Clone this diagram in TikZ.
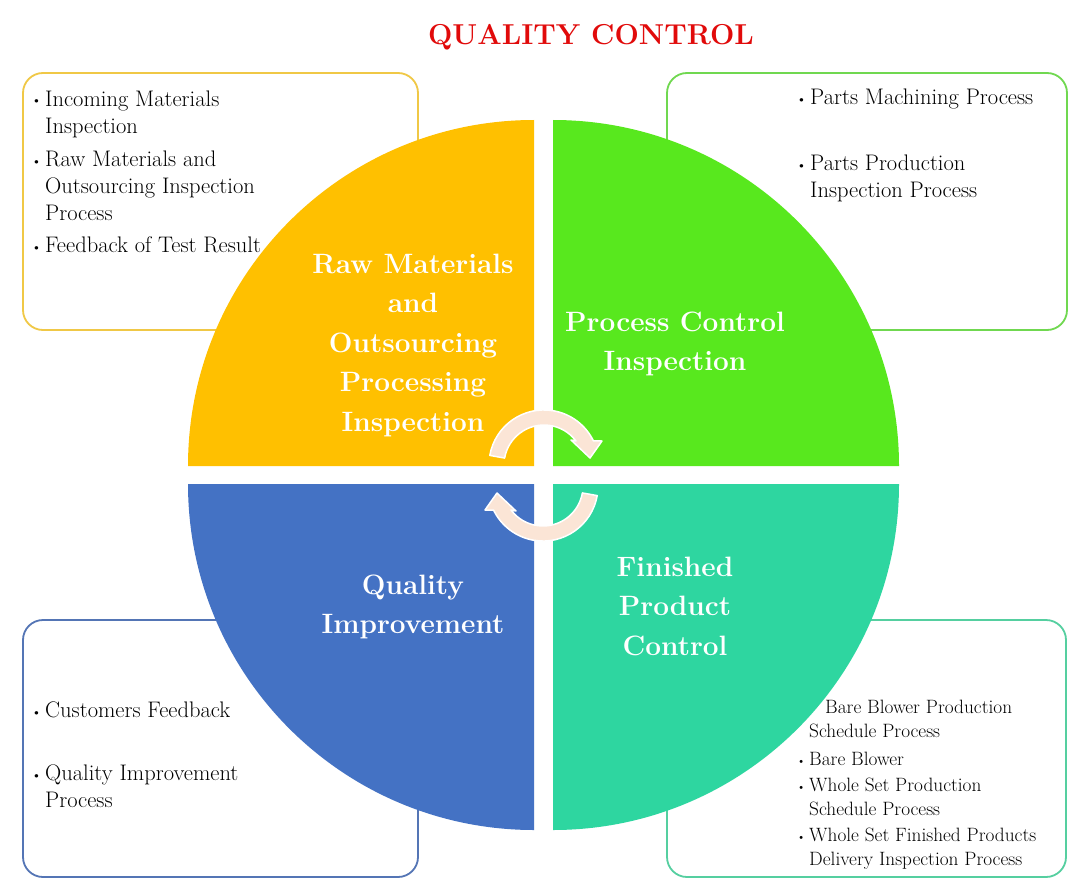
\documentclass[tikz,border=0pt]{standalone}
\usepackage{graphicx}
\definecolor{qyellow}{RGB}{255,192,0}
\definecolor{qgreen}{RGB}{88,232,30}
\definecolor{qblue}{RGB}{68,114,196}
\definecolor{qteal}{RGB}{46,214,160}
\definecolor{byellow}{RGB}{240,200,70}
\definecolor{bgreen}{RGB}{112,216,80}
\definecolor{bblue}{RGB}{84,117,181}
\definecolor{bteal}{RGB}{85,207,160}
\definecolor{qpeach}{RGB}{251,229,214}
\definecolor{qred}{RGB}{225,10,10}
\newcommand{\bul}{\llap{\scalebox{0.7}{\textbullet}\hspace{3pt}}}
\begin{document}
\begin{tikzpicture}[x=1pt,y=-1pt,
  infobox/.style={rounded corners=20pt,line width=1.8pt,fill=white},
  bigtext/.style={text=white,align=center,inner sep=0pt,
    font=\fontsize{28}{39.5}\selectfont\bfseries},
  item/.style={anchor=base west,align=left,inner sep=0pt,
    font=\fontsize{22.5}{27}\selectfont},
  smallitem/.style={anchor=base west,align=left,inner sep=0pt,
    font=\fontsize{19.3}{23.5}\selectfont},
  arrowshape/.style={fill=qpeach,draw=white,line width=1.5pt,line join=round}]
\useasboundingbox[fill=white] (0,0) rectangle (1089,888);
% title
\node[anchor=base,text=qred,font=\fontsize{28.8}{34}\selectfont\bfseries,inner sep=0pt] (title) at (591,45) {QUALITY CONTROL};
% boxes
\draw[infobox,draw=byellow] (23,73) rectangle (418,330);
\draw[infobox,draw=bgreen] (667,73) rectangle (1067,330);
\draw[infobox,draw=bblue] (23,620) rectangle (418,877);
\draw[infobox,draw=bteal] (667,620) rectangle (1066,877);
% quadrants
\fill[qyellow] (534,466) -- (188,466) arc[start angle=180,end angle=90,radius=346pt] -- cycle;
\fill[qgreen] (553,466) -- (553,120) arc[start angle=90,end angle=0,radius=346pt] -- cycle;
\fill[qteal] (553,484) -- (899,484) arc[start angle=0,end angle=-90,radius=346pt] -- cycle;
\fill[qblue] (534,484) -- (534,830) arc[start angle=270,end angle=180,radius=346pt] -- cycle;
% quadrant texts
\node[bigtext] (raw) at (413,345) {Raw Materials\\and\\Outsourcing\\Processing\\Inspection};
\node[bigtext] (proc) at (675,344) {Process Control\\Inspection};
\node[bigtext] (qual) at (413,607) {Quality\\Improvement};
\node[bigtext] (fin) at (675,606) {Finished\\Product\\Control};
% arrows
\path[arrowshape] (489.8,455.4) arc[start angle=170,end angle=25.9,radius=55pt]
  -- (602,441) -- (590,458) -- (571,440) -- (576,441)
  arc[start angle=36.9,end angle=170,radius=40pt] -- cycle;
\begin{scope}[rotate around={180:(543.5,475.5)}]
\path[arrowshape] (489.8,455.4) arc[start angle=170,end angle=25.9,radius=55pt]
  -- (602,441) -- (590,458) -- (571,440) -- (576,441)
  arc[start angle=36.9,end angle=170,radius=40pt] -- cycle;
\end{scope}
% lists (anchor = baseline of the last line)
\node[item] (a1) at (45,133) {\bul Incoming Materials\\Inspection};
\node[item] (a2) at (45,220) {\bul Raw Materials and\\Outsourcing Inspection\\Process};
\node[item] (a3) at (45,252) {\bul Feedback of Test Result};
\node[item] (b1) at (810,105) {\bul Parts Machining Process};
\node[item] (b2) at (810,197) {\bul Parts Production\\Inspection Process};
\node[item] (c1) at (45,717) {\bul Customers Feedback};
\node[item] (c2) at (45,807) {\bul Quality Improvement\\Process};
\node[smallitem] (d1) at (809,737) {\hspace*{16pt}Bare Blower Production\\Schedule Process};
\node[smallitem] (d2) at (809,765) {\bul Bare Blower};
\node[smallitem] (d3) at (809,815) {\bul Whole Set Production\\Schedule Process};
\node[smallitem] (d4) at (809,865) {\bul Whole Set Finished Products\\Delivery Inspection Process};
\end{tikzpicture}
\end{document}
